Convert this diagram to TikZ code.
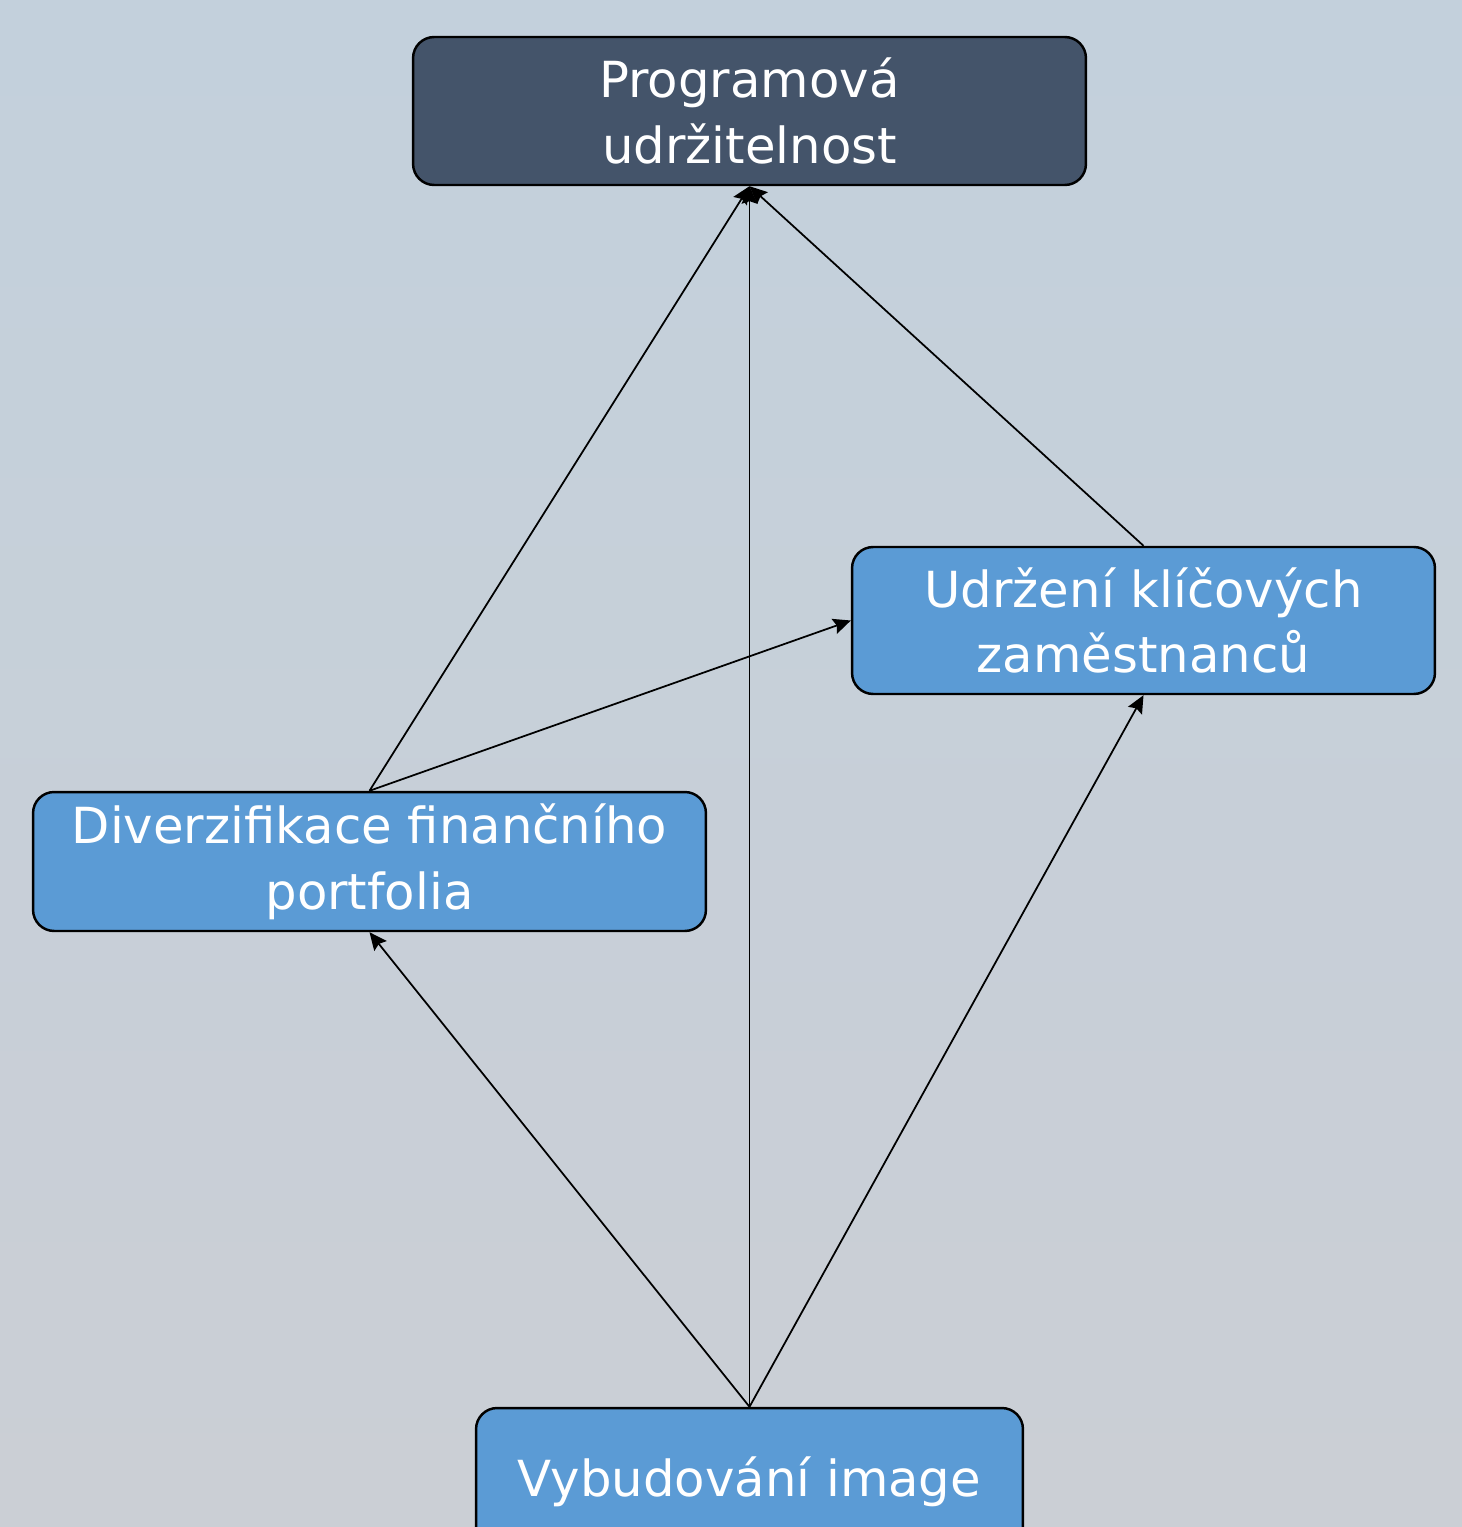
\documentclass[tikz,border=0pt]{standalone}
\usepackage{fontspec}
\setmainfont{DejaVu Sans}
\usetikzlibrary{arrows.meta}
\definecolor{bgtop}{RGB}{195,208,220}
\definecolor{bgbot}{RGB}{203,207,213}
\definecolor{darkbox}{RGB}{68,84,106}
\definecolor{bluebox}{RGB}{91,155,213}
\tikzset{
  box/.style={draw=black, line width=1.4pt, rounded corners=12pt, text=white,
    align=center, font=\fontsize{28.3}{37.5}\selectfont, inner sep=0pt},
  darknode/.style={box, fill=darkbox},
  bluenode/.style={box, fill=bluebox},
  conn/.style={draw=black, line width=1pt, -{Stealth[length=10pt,width=9pt,inset=1.5pt]}}
}
\begin{document}
\begin{tikzpicture}[x=0.02cm,y=-0.02cm]
\useasboundingbox (0,0) rectangle (1462,1527);
\shade[top color=bgtop, bottom color=bgbot] (0,0) rectangle (1462,1527);
\begin{scope}
\clip (0,0) rectangle (1462,1527);
\node[darknode, minimum width=13.46cm, minimum height=2.96cm] (top) at (749.5,111) {Programová\\udržitelnost};
\node[bluenode, minimum width=11.66cm, minimum height=2.94cm] (right) at (1143.5,620.5) {Udržení klíčových\\zaměstnanců};
\node[bluenode, minimum width=13.46cm, minimum height=2.78cm] (left) at (369.5,861.5) {Diverzifikace finančního\\portfolia};
\node[bluenode, minimum width=10.94cm, minimum height=2.96cm] (bottom) at (749.5,1482) {Vybudování image};
\end{scope}
\draw[conn] (bottom.north) -- (left.south);
\draw[conn] (bottom.north) -- (top.south);
\draw[conn] (bottom.north) -- (right.south);
\draw[conn] (left.north) -- (top.south);
\draw[conn] (left.north) -- (right.west);
\draw[conn] (right.north) -- (top.south);
\end{tikzpicture}
\end{document}
